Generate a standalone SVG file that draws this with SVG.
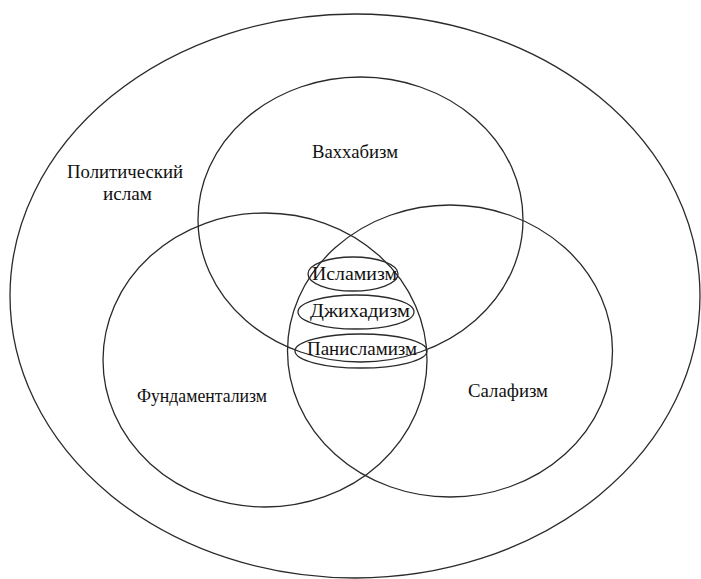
<svg xmlns="http://www.w3.org/2000/svg" width="701" height="579" viewBox="0 0 701 579">
<style>
.c{fill:none;stroke:#2a2a2a;stroke-width:1.3}
.t{font-family:'Liberation Serif','Times New Roman','DejaVu Serif',serif;font-size:19px;fill:#111;text-anchor:middle}
</style>
<rect width="701" height="579" fill="#fff"/>
<g id="political-islam">
<ellipse class="c" cx="355" cy="296" rx="345" ry="282"/>
<text class="t" x="125" y="178" textLength="116" lengthAdjust="spacingAndGlyphs">Политический</text>
<text class="t" x="127.5" y="200" textLength="49" lengthAdjust="spacingAndGlyphs">ислам</text>
</g>
<g id="wahhabism">
<ellipse class="c" cx="360.5" cy="219.5" rx="162.5" ry="142.5"/>
<text class="t" x="355" y="158" textLength="86" lengthAdjust="spacingAndGlyphs">Ваххабизм</text>
</g>
<g id="fundamentalism">
<ellipse class="c" cx="265" cy="360" rx="162" ry="147"/>
<text class="t" x="202" y="402" textLength="130" lengthAdjust="spacingAndGlyphs">Фундаментализм</text>
</g>
<g id="salafism">
<ellipse class="c" cx="450" cy="351" rx="162.5" ry="146"/>
<text class="t" x="508" y="397" textLength="80" lengthAdjust="spacingAndGlyphs">Салафизм</text>
</g>
<g id="islamism">
<ellipse class="c" cx="353" cy="274" rx="45" ry="17"/>
<text class="t" x="354.5" y="280" textLength="85" lengthAdjust="spacingAndGlyphs">Исламизм</text>
</g>
<g id="jihadism">
<ellipse class="c" cx="356" cy="312" rx="58" ry="17"/>
<text class="t" x="360" y="317" textLength="100" lengthAdjust="spacingAndGlyphs">Джихадизм</text>
</g>
<g id="panislamism">
<ellipse class="c" cx="361" cy="351" rx="66" ry="17"/>
<text class="t" x="362" y="355" textLength="110" lengthAdjust="spacingAndGlyphs">Панисламизм</text>
</g>
<g id="connectors"/>
</svg>
